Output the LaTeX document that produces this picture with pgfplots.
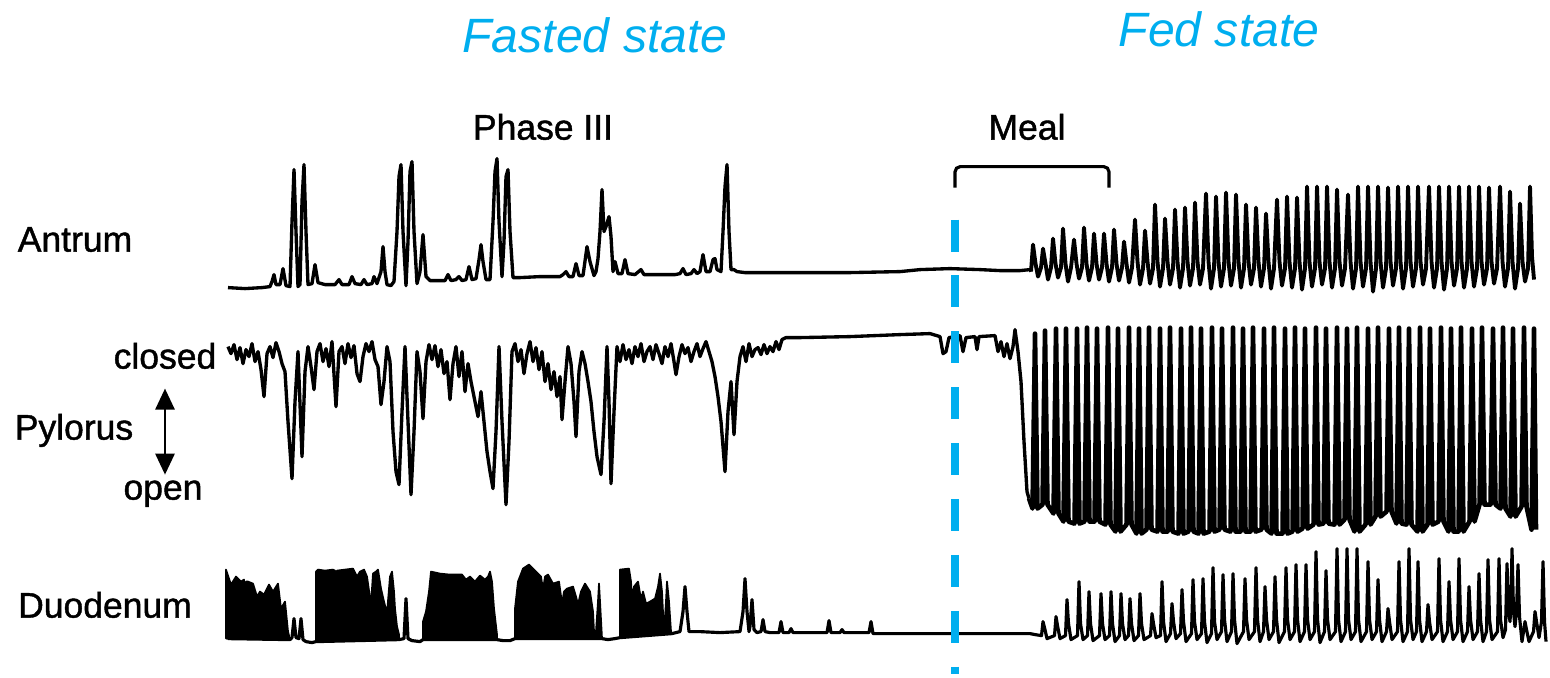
\documentclass[border=0pt]{standalone}
\usepackage{fontspec}
\setmainfont{Liberation Sans}
\newfontfamily\medfont{Liberation Sans}[BoldFont=Liberation Sans, BoldFeatures={FakeBold=1.2}]
\usepackage{pgfplots}
\pgfplotsset{compat=1.18}
\usetikzlibrary{arrows.meta}
\definecolor{cyanblue}{RGB}{0,174,239}
\tikzset{trace/.style={black, line width=0.95pt, line join=round}}
\begin{document}
\begin{tikzpicture}
\begin{axis}[width=15.5cm,height=6.72cm,scale only axis,
  xmin=0,xmax=1550,ymin=0,ymax=672,y dir=reverse,
  axis lines=none,clip=false]
\draw[draw=none] (rel axis cs:0,0) rectangle (rel axis cs:1,1);
% ---------------- Antrum ----------------
\addplot[trace,no markers] coordinates {
(228,286)(245,287)(262,286)(270,285)(272,280)(274,273)(276,283)(280,283)(283,267)(286,284)(290,285)(292,220)(294,168)(296,230)(298,285)(300,283)(302,200)(304,163)(306,230)(308,283)(312,282)(315,263)(318,281)(325,283)(335,283)(339,278)(342,283)(349,283)(352,275)(355,282)(361,283)(364,278)(367,283)(372,282)(374,275)(377,282)(381,270)(383,245)(385,270)(387,283)(391,284)(394,280)(397,230)(399,175)(401,163)(403,230)(406,284)(408,240)(410,170)(412,160)(414,230)(417,282)(420,270)(423,233)(426,275)(430,279)(440,279)(445,279)(448,273)(451,279)(456,278)(459,275)(462,279)(466,278)(469,265)(472,278)(476,277)(479,258)(481,243)(483,260)(486,278)(490,278)(493,220)(495,170)(497,157)(499,220)(502,275)(504,240)(506,175)(508,168)(510,230)(513,276)(520,276)(540,275)(560,275)(563,273)(566,270)(569,275)(573,275)(576,262)(579,274)(583,274)(587,245)(590,260)(594,274)(596,270)(598,257)(600,230)(602,188)(604,230)(606,225)(609,215)(611,235)(613,270)(615,260)(618,272)(622,272)(625,258)(628,272)(635,273)(641,268)(644,273)(660,273)(675,273)(680,272)(683,267)(686,273)(691,272)(694,268)(697,272)(700,270)(703,253)(706,270)(710,270)(713,258)(715,257)(717,268)(721,270)(723,230)(725,185)(727,163)(729,230)(731,268)(734,268)(737,270)(745,271)(800,271)(850,271)(900,270)(920,268)(950,267)(980,268)(1000,269)(1020,269)(1030,268)(1031,270)
};
\addplot[black,line width=1.1pt,line join=round,no markers] coordinates {
(1031,270)
(1033,243)(1035.5,262)(1038,275)(1041,266)
(1043,247)(1045.5,262)(1048,278)(1051,266)
(1053,237)(1055.5,262)(1058,276)(1061,266)
(1063,227)(1065.5,262)(1068,280)(1071,266)
(1074,238)(1076.5,262)(1079,277)(1082,266)
(1084,226)(1086.5,262)(1089,279)(1092,266)
(1094,232)(1096.5,262)(1099,278)(1102,266)
(1104,232)(1106.5,262)(1109,280)(1112,266)
(1114,228)(1116.5,262)(1119,279)(1122,266)
(1124,240)(1126.5,262)(1129,281)(1132,266)
(1135,218)(1137.5,260)(1140,283)(1143,267)
(1145,229)(1147.5,260)(1150,282)(1153,267)
(1155,203)(1157.5,260)(1160,285)(1163,267)
(1165,217)(1167.5,260)(1170,283)(1173,267)
(1175,208)(1177.5,260)(1180,286)(1183,267)
(1185,206)(1187.5,260)(1190,284)(1193,267)
(1195,201)(1197.5,260)(1200,283)(1203,267)
(1206,192)(1208.5,260)(1211,287)(1214,267)
(1216,195)(1218.5,260)(1221,285)(1224,267)
(1226,191)(1228.5,260)(1231,284)(1234,267)
(1236,193)(1238.5,260)(1241,286)(1244,267)
(1246,203)(1248.5,260)(1251,283)(1254,267)
(1256,206)(1258.5,260)(1261,285)(1264,267)
(1266,212)(1268.5,260)(1271,287)(1274,267)
(1277,198)(1279.5,260)(1282,284)(1285,267)
(1287,195)(1289.5,260)(1292,286)(1295,267)
(1297,196)(1299.5,260)(1302,288)(1305,267)
(1307,185)(1309.5,260)(1312,285)(1315,267)
(1317,185)(1319.5,260)(1322,283)(1325,267)
(1327,185)(1329.5,260)(1332,286)(1335,267)
(1337,188)(1339.5,260)(1342,284)(1345,267)
(1348,193)(1350.5,260)(1353,287)(1356,267)
(1358,185)(1360.5,260)(1363,285)(1366,267)
(1368,185)(1370.5,260)(1373,290)(1376,267)
(1378,185)(1380.5,260)(1383,286)(1386,267)
(1388,186)(1390.5,260)(1393,284)(1396,267)
(1398,185)(1400.5,260)(1403,287)(1406,267)
(1408,185)(1410.5,260)(1413,285)(1416,267)
(1418,185)(1420.5,260)(1423,283)(1426,267)
(1429,185)(1431.5,260)(1434,286)(1437,267)
(1439,185)(1441.5,260)(1444,288)(1447,267)
(1449,185)(1451.5,260)(1454,284)(1457,267)
(1459,185)(1461.5,260)(1464,286)(1467,267)
(1469,185)(1471.5,260)(1474,285)(1477,267)
(1479,185)(1481.5,260)(1484,283)(1487,267)
(1489,186)(1491.5,260)(1494,282)(1497,267)
(1500,185)(1502.5,260)(1505,285)(1508,267)
(1510,190)(1512.5,260)(1515,287)(1518,267)
(1520,202)(1522.5,260)(1525,280)(1528,267)
(1530,185)(1532,255)(1534,278)
};
% ---------------- Pylorus (fasted) ----------------
\addplot[trace,no markers] coordinates {
(228,345)(231,352)(234,343)(237,358)(240,346)(243,362)(246,348)(249,355)(252,342)(255,360)(258,350)(261,368)(264,395)(267,352)(270,345)(273,356)(276,341)(279,350)(282,362)(285,370)(288,420)(292,477)(295,400)(298,350)(302,455)(305,370)(308,345)(311,365)(314,388)(317,350)(320,342)(323,360)(326,347)(329,365)(332,340)(336,405)(339,350)(342,345)(345,362)(348,342)(351,356)(354,344)(357,372)(360,380)(363,355)(366,342)(369,350)(372,340)(375,358)(378,365)(381,403)(384,380)(387,345)(390,360)(393,430)(396,470)(399,483)(402,410)(405,345)(408,420)(411,493)(414,430)(417,350)(420,370)(423,417)(426,360)(429,343)(432,358)(435,344)(438,365)(441,348)(444,372)(447,360)(450,398)(453,362)(456,345)(459,375)(462,350)(465,390)(468,362)(471,380)(474,395)(478,415)(481,390)(484,420)(487,450)(490,470)(493,487)(496,430)(499,345)(502,420)(506,503)(509,440)(512,350)(515,342)(518,360)(521,348)(524,372)(527,352)(530,340)(533,360)(536,346)(539,368)(542,350)(545,380)(548,362)(551,388)(554,370)(557,395)(560,375)(562,418)(565,380)(568,345)(571,362)(574,400)(576,435)(579,370)(582,350)(585,362)(588,380)(591,400)(594,430)(597,455)(601,473)(604,420)(607,345)(609,400)(611,482)(614,410)(617,345)(620,360)(623,343)(626,358)(629,348)(632,362)(635,345)(638,355)(641,342)(644,360)(647,350)(650,345)(653,358)(656,343)(659,352)(662,362)(665,345)(668,355)(671,342)(674,360)(676,373)(679,355)(682,343)(685,352)(688,346)(691,360)(694,350)(697,342)(700,355)(703,347)(706,340)(709,350)(712,360)(715,375)(718,395)(721,420)(725,470)(728,410)(731,380)(734,433)(737,380)(740,355)(743,345)(746,360)(749,342)(752,355)(755,348)(758,346)(761,353)(764,343)(767,352)(770,345)(773,350)(776,340)(779,348)(782,338)(786,336)(800,336)(850,335)(900,333)(930,332)(940,335)(943,352)(946,350)(949,336)(960,334)(963,350)(966,336)(975,335)(977,348)(979,335)(995,334)(998,350)(1001,340)(1004,355)(1007,342)(1010,357)(1013,345)(1015,328)(1018,350)(1021,380)(1024,440)(1027,490)(1029,497)
};
% ---------------- Pylorus (fed) ----------------
\addplot[black,line width=1.3pt,line join=round,no markers] coordinates {
(1029,497)
(1032.5,507)(1035,332)(1037.5,507)
(1042.5,503)(1045,329)(1047.5,503)
(1053.5,512)(1056,327)(1058.5,512)
(1063.5,520)(1066,327)(1068.5,520)
(1074.5,522)(1077,327)(1079.5,522)
(1084.5,520)(1087,326)(1089.5,520)
(1094.5,520)(1097,327)(1099.5,520)
(1105.5,523)(1108,326)(1110.5,523)
(1115.5,530)(1118,327)(1120.5,530)
(1126.5,523)(1129,326)(1131.5,523)
(1136.5,532)(1139,327)(1141.5,532)
(1146.5,528)(1149,326)(1151.5,528)
(1157.5,530)(1160,327)(1162.5,530)
(1167.5,530)(1170,326)(1172.5,530)
(1178.5,532)(1181,327)(1183.5,532)
(1188.5,530)(1191,326)(1193.5,530)
(1198.5,532)(1201,327)(1203.5,532)
(1209.5,530)(1212,326)(1214.5,530)
(1219.5,528)(1222,327)(1224.5,528)
(1230.5,530)(1233,326)(1235.5,530)
(1240.5,530)(1243,327)(1245.5,530)
(1250.5,530)(1253,326)(1255.5,530)
(1261.5,528)(1264,327)(1266.5,528)
(1271.5,532)(1274,326)(1276.5,532)
(1282.5,532)(1285,327)(1287.5,532)
(1292.5,530)(1295,326)(1297.5,530)
(1302.5,527)(1305,327)(1307.5,527)
(1313.5,523)(1316,326)(1318.5,523)
(1323.5,522)(1326,327)(1328.5,522)
(1334.5,523)(1337,326)(1339.5,523)
(1344.5,518)(1347,327)(1349.5,518)
(1354.5,530)(1357,326)(1359.5,530)
(1365.5,523)(1368,327)(1370.5,523)
(1375.5,515)(1378,326)(1380.5,515)
(1386.5,510)(1389,327)(1391.5,510)
(1396.5,522)(1399,326)(1401.5,522)
(1406.5,523)(1409,327)(1411.5,523)
(1417.5,530)(1420,326)(1422.5,530)
(1427.5,523)(1430,327)(1432.5,523)
(1438.5,520)(1441,326)(1443.5,520)
(1448.5,530)(1451,327)(1453.5,530)
(1458.5,530)(1461,326)(1463.5,530)
(1469.5,520)(1472,327)(1474.5,520)
(1479.5,503)(1482,326)(1484.5,503)
(1490.5,503)(1493,327)(1495.5,503)
(1500.5,507)(1503,326)(1505.5,507)
(1510.5,515)(1513,327)(1515.5,515)
(1521.5,505)(1524,326)(1526.5,505)
(1531.5,528)(1534,327)(1536,528)
};
% ---------------- Duodenum: bursts (filled) ----------------
\addplot[black,fill=black,line width=0.5pt,line join=round,no markers] coordinates {
(226,637)(226,568)(231,583)(236,575)(241,580)(244,578)(245,613)(246,580)(248,580)(253,582)(257,595)(260,590)(264,593)(269,583)(273,590)(278,582)(281,607)(285,600)(288,630)(290,638)} --cycle;
\addplot[black,fill=black,line width=0.5pt,line join=round,no markers] coordinates {
(316,640)(316,570)(318,568)(325,569)(333,568)(335,569)(336,583)(337,569)(345,568)(353,567)(357,575)(360,570)(364,568)(367,575)(371,603)(373,572)(376,570)(378,568)(381,587)(384,600)(387,612)(390,575)(392,570)(394,590)(395,607)(397,625)(399,633)(399,638)} --cycle;
\addplot[black,fill=black,line width=0.5pt,line join=round,no markers] coordinates {
(423,638)(423,620)(426,610)(429,590)(431,570)(440,572)(450,573)(462,573)(466,578)(470,575)(475,580)(480,574)(485,578)(488,575)(490,570)(492,580)(494,607)(497,633)(497,638)} --cycle;
\addplot[black,fill=black,line width=0.5pt,line join=round,no markers] coordinates {
(515,637)(515,607)(518,580)(523,567)(529,563)(534,568)(539,573)(541,575)(543,588)(545,575)(548,573)(553,582)(559,580)(562,602)(564,590)(567,587)(573,585)(576,595)(578,603)(581,590)(585,582)(590,590)(593,610)(594,630)(596,630)(598,600)(599,582)(600,600)(602,637)} --cycle;
\addplot[black,fill=black,line width=0.5pt,line join=round,no markers] coordinates {
(620,636)(620,568)(629,567)(631,580)(632,598)(634,585)(638,580)(641,598)(643,590)(646,602)(650,600)(655,597)(658,585)(660,572)(662,590)(664,632)(666,600)(667,580)(669,600)(671,630)(672,632)} --cycle;
% ---------------- Duodenum: trace ----------------
\addplot[black,line width=0.9pt,line join=round,no markers] coordinates {
(228,637)(290,638)(292,636)(294,617)(296,636)(299,637)(301,617)(303,638)(306,640)(312,641)(316,640)(399,638)(404,637)(406,597)(408,637)(412,639)(420,640)(423,638)(497,638)(503,639)(510,639)(515,637)(602,637)(608,638)(615,637)(620,636)(672,632)(680,630)(683,610)(685,585)(687,610)(689,630)(700,630)(720,631)(740,630)(743,610)(745,577)(747,610)(749,630)(750,625)(752,598)(754,628)(757,631)(761,630)(763,618)(765,630)(770,631)(779,631)(781,620)(783,631)(789,631)(791,627)(793,631)(810,631)(827,631)(829,619)(831,631)(840,631)(842,628)(844,631)(869,631)(871,620)(873,632)(900,632)(950,632)(1000,632)(1030,632)(1035,633)
(1041.5,634)(1043,620)(1044.5,626)(1047,637)
(1054.5,634)(1056,615)(1057.5,624)(1060,637)
(1065.5,634)(1067,598)(1068.5,622)(1071,638)
(1077.5,634)(1079,580)(1080.5,622)(1083,638)
(1087.5,634)(1089,590)(1090.5,622)(1093,639)
(1099.5,634)(1101,592)(1102.5,622)(1105,638)
(1109.5,634)(1111,590)(1112.5,622)(1115,640)
(1119.5,634)(1121,592)(1122.5,622)(1125,638)
(1128.5,634)(1130,597)(1131.5,622)(1134,639)
(1138.5,634)(1140,592)(1141.5,622)(1144,638)
(1150.5,634)(1152,612)(1153.5,622)(1156,636)
(1160.5,634)(1162,580)(1163.5,620)(1166,640)
(1170.5,632)(1172,602)(1173.5,620)(1176,637)
(1180.5,632)(1182,588)(1183.5,620)(1186,640)
(1191.5,632)(1193,578)(1194.5,620)(1197,638)
(1201.5,632)(1203,577)(1204.5,620)(1207,641)
(1211.5,632)(1213,566)(1214.5,620)(1217,638)
(1221.5,630)(1223,573)(1224.5,618)(1227,640)
(1231.5,630)(1233,572)(1234.5,618)(1237,642)
(1243.5,630)(1245,577)(1246.5,618)(1249,638)
(1254.5,630)(1256,566)(1257.5,618)(1260,640)
(1263.5,630)(1265,585)(1266.5,618)(1269,638)
(1273.5,630)(1275,575)(1276.5,618)(1279,641)
(1284.5,630)(1286,566)(1287.5,618)(1290,638)
(1294.5,630)(1296,563)(1297.5,618)(1300,640)
(1304.5,630)(1306,563)(1307.5,618)(1310,638)
(1314.5,630)(1316,550)(1317.5,618)(1320,641)
(1324.5,630)(1326,569)(1327.5,618)(1330,638)
(1335.5,630)(1337,547)(1338.5,618)(1341,640)
(1345.5,630)(1347,547)(1348.5,618)(1351,638)
(1355.5,630)(1357,547)(1358.5,618)(1361,640)
(1366.5,630)(1368,560)(1369.5,618)(1372,638)
(1376.5,630)(1378,578)(1379.5,618)(1382,640)
(1386.5,630)(1388,607)(1389.5,620)(1392,638)
(1397.5,630)(1399,560)(1400.5,618)(1403,640)
(1407.5,630)(1409,547)(1410.5,618)(1413,638)
(1416.5,630)(1418,560)(1419.5,618)(1422,640)
(1426.5,630)(1428,603)(1429.5,620)(1432,638)
(1437.5,630)(1439,557)(1440.5,618)(1443,640)
(1447.5,630)(1449,580)(1450.5,618)(1453,638)
(1457.5,630)(1459,557)(1460.5,618)(1463,640)
(1467.5,630)(1469,585)(1470.5,618)(1473,638)
(1477.5,630)(1479,572)(1480.5,618)(1483,640)
(1486.5,630)(1488,558)(1489.5,618)(1492,638)
(1497.5,630)(1499,557)(1500.5,618)(1503,636)
(1505.5,628)(1507,562)(1508.5,610)(1510,620)
(1511,600)(1512,547)(1513.5,610)(1515,625)
(1516.5,610)(1518,563)(1519.5,615)(1522,640)
(1523.5,630)(1525,620)(1526.5,628)(1529,640)
(1533.5,630)(1535,610)(1536.5,620)(1539,636)
(1541.5,620)(1543,560)(1544.5,620)(1546,640)
};
% ---------------- Meal bracket ----------------
\addplot[black,line width=0.9pt,rounded corners=1.5pt,no markers] coordinates {(955,186)(955,165)(1109,165)(1109,186)};
% ---------------- Blue dashed line ----------------
\addplot[cyanblue,line width=2pt,dash pattern=on 9.1pt off 6.8pt,no markers] coordinates {(955,218)(955,672)};
% ---------------- Texts ----------------
\node[anchor=base,text=cyanblue,font=\fontsize{13.7}{16}\selectfont\itshape] at (axis cs:595,51) {Fasted state};
\node[anchor=base,text=cyanblue,font=\fontsize{13.7}{16}\selectfont\itshape] at (axis cs:1219,45) {Fed state};
\node[anchor=base,font=\medfont\bfseries\fontsize{10.1}{12}\selectfont] at (axis cs:543,138) {Phase III};
\node[anchor=base,font=\medfont\bfseries\fontsize{10.1}{12}\selectfont] at (axis cs:1027,138) {Meal};
\node[anchor=base,font=\medfont\bfseries\fontsize{10.1}{12}\selectfont] at (axis cs:75,250) {Antrum};
\node[anchor=base,font=\medfont\bfseries\fontsize{10.1}{12}\selectfont] at (axis cs:74,438) {Pylorus};
\node[anchor=base,font=\medfont\bfseries\fontsize{10.1}{12}\selectfont] at (axis cs:105,616) {Duodenum};
\node[anchor=base,font=\medfont\bfseries\fontsize{10.1}{12}\selectfont] at (axis cs:165,367) {closed};
\node[anchor=base,font=\medfont\bfseries\fontsize{10.1}{12}\selectfont] at (axis cs:163,498) {open};
\draw[{Triangle[length=6pt,width=5.5pt]}-{Triangle[length=6pt,width=5.5pt]},line width=0.6pt] (axis cs:165,387) -- (axis cs:165,473);
\end{axis}
\end{tikzpicture}
\end{document}
